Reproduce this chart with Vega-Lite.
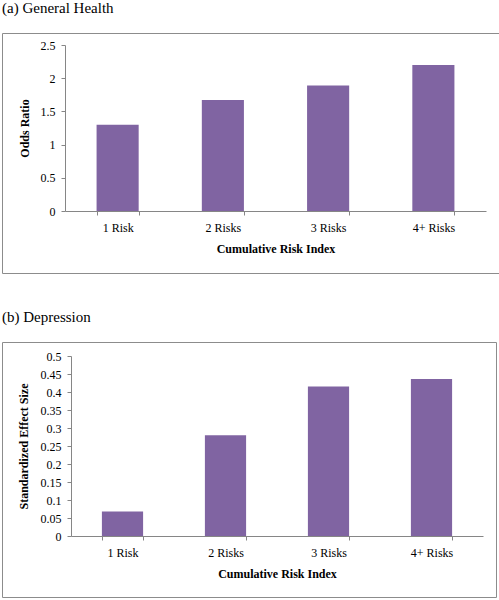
{
  "$schema": "https://vega.github.io/schema/vega-lite/v6.json",
  "padding": {"left": 1, "top": 0, "right": 0, "bottom": 0},
  "spacing": 35,
  "datasets": {
    "health": [
      {"risk": "1 Risk", "value": 1.3},
      {"risk": "2 Risks", "value": 1.67},
      {"risk": "3 Risks", "value": 1.89},
      {"risk": "4+ Risks", "value": 2.2}
    ],
    "depression": [
      {"risk": "1 Risk", "value": 0.068},
      {"risk": "2 Risks", "value": 0.28},
      {"risk": "3 Risks", "value": 0.415},
      {"risk": "4+ Risks", "value": 0.436}
    ]
  },
  "vconcat": [
    {
      "title": {"text": "(a) General Health", "anchor": "start", "offset": 17},
      "width": 497,
      "height": 240,
      "data": {"name": "health"},
      "mark": {"type": "bar", "color": "#8064A2"},
      "encoding": {
        "x": {
          "field": "risk", "type": "nominal", "sort": null,
          "scale": {"range": [63, 484], "paddingInner": 0.6, "paddingOuter": 0.3},
          "axis": {"title": "Cumulative Risk Index", "offset": -62, "tickBand": "extent", "labelAngle": 0, "labelPadding": 7, "titlePadding": 10}
        },
        "y": {
          "field": "value", "type": "quantitative",
          "scale": {"domain": [0, 2.5], "range": [178, 12], "nice": false},
          "axis": {"title": "Odds Ratio", "offset": -63, "values": [0, 0.5, 1, 1.5, 2, 2.5], "format": "~g", "labelPadding": 6, "titlePadding": 9}
        }
      }
    },
    {
      "title": {"text": "(b) Depression", "anchor": "start", "offset": 17},
      "width": 494,
      "height": 255,
      "data": {"name": "depression"},
      "mark": {"type": "bar", "color": "#8064A2"},
      "encoding": {
        "x": {
          "field": "risk", "type": "nominal", "sort": null,
          "scale": {"range": [69, 481], "paddingInner": 0.6, "paddingOuter": 0.3},
          "axis": {"title": "Cumulative Risk Index", "offset": -61, "tickBand": "extent", "labelAngle": 0, "labelPadding": 7, "titlePadding": 10}
        },
        "y": {
          "field": "value", "type": "quantitative",
          "scale": {"domain": [0, 0.5], "range": [194, 14], "nice": false},
          "axis": {"title": "Standardized Effect Size", "offset": -69, "values": [0, 0.05, 0.1, 0.15, 0.2, 0.25, 0.3, 0.35, 0.4, 0.45, 0.5], "format": "~g", "labelPadding": 6, "titlePadding": 10}
        }
      }
    }
  ],
  "config": {
    "background": "white",
    "view": {"stroke": "#8c8c8c", "strokeWidth": 1},
    "title": {"font": "Liberation Serif", "fontSize": 15, "fontWeight": "normal", "color": "#000"},
    "axis": {
      "grid": false,
      "domainColor": "#868686",
      "tickColor": "#868686",
      "tickSize": 4,
      "labelFont": "Liberation Serif",
      "labelFontSize": 12,
      "labelColor": "#000",
      "titleFont": "Liberation Serif",
      "titleFontSize": 12,
      "titleFontWeight": "bold",
      "titleColor": "#000"
    }
  }
}
